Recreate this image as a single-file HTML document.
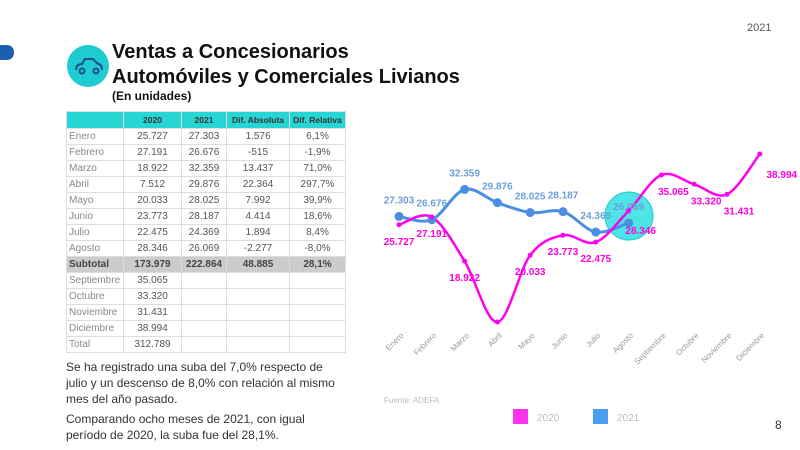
<!DOCTYPE html>
<html><head><meta charset="utf-8"><style>
body{margin:0;width:800px;height:450px;background:#fff;font-family:"Liberation Sans",sans-serif;position:relative;overflow:hidden}
.t{position:absolute;left:112px;top:40px;font-size:20px;font-weight:bold;color:#111;line-height:25px}
.s{position:absolute;left:112px;top:89px;font-size:12px;font-weight:bold;color:#111}
table{position:absolute;left:66px;top:111px;border-collapse:collapse;font-size:10px;color:#555;table-layout:fixed;width:279px}
td{border:1px solid #ddd;height:15px;padding:0 2px;text-align:center;white-space:nowrap;overflow:hidden}
td:first-child{text-align:left;color:#888}
tr.h td{background:#27d5d5;color:#333;font-weight:bold;height:16px;font-size:8.5px}
tr.sub td{background:#ccc;font-weight:bold;color:#444}
.p{position:absolute;left:66px;font-size:12px;color:#333;line-height:16px}
</style></head><body>
<div style="position:absolute;left:-6px;top:45px;width:20px;height:15px;border-radius:7px;background:#1b5fae"></div>
<div style="position:absolute;left:747px;top:22px;font-size:11px;color:#555">2021</div>
<div style="position:absolute;left:775px;top:418px;font-size:12px;color:#333">8</div>
<svg style="position:absolute;left:67px;top:45px" width="42" height="42"><circle cx="21" cy="21" r="21" fill="#1ecbd0"/><path d="M9 25 q0-6 6-6 l3-5 h8 l5 5 q4 0 4 6" fill="none" stroke="#1b4e8c" stroke-width="2"/><circle cx="15" cy="26" r="2.5" fill="none" stroke="#1b4e8c" stroke-width="2"/><circle cx="29" cy="26" r="2.5" fill="none" stroke="#1b4e8c" stroke-width="2"/></svg>
<div class="t">Ventas a Concesionarios<br>Automóviles y Comerciales Livianos</div>
<div class="s">(En unidades)</div>
<table>
<colgroup><col style="width:57px"><col style="width:58px"><col style="width:45px"><col style="width:63px"><col style="width:56px"></colgroup>
<tr class="h"><td></td><td>2020</td><td>2021</td><td>Dif. Absoluta</td><td>Dif. Relativa</td></tr>
<tr><td>Enero</td><td>25.727</td><td>27.303</td><td>1.576</td><td>6,1%</td></tr>
<tr><td>Febrero</td><td>27.191</td><td>26.676</td><td>-515</td><td>-1,9%</td></tr>
<tr><td>Marzo</td><td>18.922</td><td>32.359</td><td>13.437</td><td>71,0%</td></tr>
<tr><td>Abril</td><td>7.512</td><td>29.876</td><td>22.364</td><td>297,7%</td></tr>
<tr><td>Mayo</td><td>20.033</td><td>28.025</td><td>7.992</td><td>39,9%</td></tr>
<tr><td>Junio</td><td>23.773</td><td>28.187</td><td>4.414</td><td>18,6%</td></tr>
<tr><td>Julio</td><td>22.475</td><td>24.369</td><td>1.894</td><td>8,4%</td></tr>
<tr><td>Agosto</td><td>28.346</td><td>26.069</td><td>-2.277</td><td>-8,0%</td></tr>
<tr class="sub"><td style="color:#444">Subtotal</td><td>173.979</td><td>222.864</td><td>48.885</td><td>28,1%</td></tr>
<tr><td>Septiembre</td><td>35.065</td><td></td><td></td><td></td></tr>
<tr><td>Octubre</td><td>33.320</td><td></td><td></td><td></td></tr>
<tr><td>Noviembre</td><td>31.431</td><td></td><td></td><td></td></tr>
<tr><td>Diciembre</td><td>38.994</td><td></td><td></td><td></td></tr>
<tr><td>Total</td><td>312.789</td><td></td><td></td><td></td></tr>
</table>
<div class="p" style="top:359px">Se ha registrado una suba del 7,0% respecto de<br>julio y un descenso de 8,0% con relación al mismo<br>mes del año pasado.</div>
<div class="p" style="top:411px">Comparando ocho meses de 2021, con igual<br>período de 2020, la suba fue del 28,1%.</div>
<svg id="c" style="position:absolute;left:0;top:0" width="800" height="450" font-family="Liberation Sans, sans-serif"></svg>
<script>
var P=[25.727,27.191,18.922,7.512,20.033,23.773,22.475,28.346,35.065,33.320,31.431,38.994];
var B=[27.303,26.676,32.359,29.876,28.025,28.187,24.369,26.069];
var M=["Enero","Febrero","Marzo","Abril","Mayo","Junio","Julio","Agosto","Septiembre","Octubre","Noviembre","Diciembre"];
function X(i){return 399+i*32.8}function Y(v){return 154+(38.994-v)*5.336}
function path(a){var p=a.map(function(v,i){return[X(i),Y(v)]});var d="M"+p[0];for(var i=0;i<p.length-1;i++){var p0=p[i-1]||p[i],p1=p[i],p2=p[i+1],p3=p[i+2]||p2;d+=" C"+(p1[0]+(p2[0]-p0[0])/6)+","+(p1[1]+(p2[1]-p0[1])/6)+" "+(p2[0]-(p3[0]-p1[0])/6)+","+(p2[1]-(p3[1]-p1[1])/6)+" "+p2}return d}
var s='<circle cx="629" cy="216" r="24" fill="#2ee0e0" fill-opacity="0.85" stroke="#1ecbd0"/>';
s+='<path d="'+path(B)+'" fill="none" stroke="#4a90e2" stroke-width="3"/>';
s+='<path d="'+path(P)+'" fill="none" stroke="#ff00ee" stroke-width="2.5"/>';
B.forEach(function(v,i){s+='<circle cx="'+X(i)+'" cy="'+Y(v)+'" r="4.5" fill="#4a90e2"/><text x="'+X(i)+'" y="'+(Y(v)-13)+'" text-anchor="middle" font-size="10" font-weight="bold" fill="#6a9fd8">'+v.toFixed(3)+'</text>'});
P.forEach(function(v,i){var ty=Y(v)+20,tx=X(i);if(i>=7){tx+=12;ty=Y(v)+(i==7?23:20)}if(i==11){tx+=10;ty=Y(v)+24}s+='<circle cx="'+X(i)+'" cy="'+Y(v)+'" r="2.5" fill="#ff00ee"/>';if(i!=3)s+='<text x="'+tx+'" y="'+ty+'" text-anchor="middle" font-size="10" font-weight="bold" fill="#ff00dd">'+v.toFixed(3)+'</text>'});
M.forEach(function(m,i){s+='<text transform="translate('+(X(i)+5)+',336) rotate(-45)" text-anchor="end" font-size="8" fill="#999">'+m+'</text>'});
s+='<text x="384" y="403" font-size="8" fill="#bbb">Fuente: ADEFA</text>';
s+='<rect x="513" y="409" width="15" height="15" fill="#ff33ee"/><text x="537" y="421" font-size="10" fill="#bbb">2020</text>';
s+='<rect x="593" y="409" width="15" height="15" fill="#4a9ef0"/><text x="617" y="421" font-size="10" fill="#bbb">2021</text>';
document.getElementById("c").innerHTML=s;
</script>
</body></html>
